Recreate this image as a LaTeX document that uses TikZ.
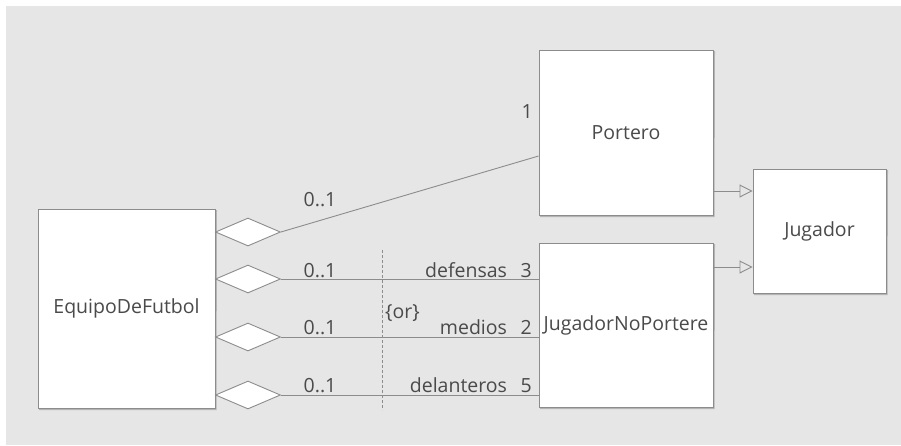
\documentclass[tikz,border=0pt]{standalone}
\usepackage{fontspec}
\setmainfont{Open Sans}
\usetikzlibrary{shapes.geometric,arrows.meta,calc}
\definecolor{bgc}{HTML}{E6E6E6}
\definecolor{lnc}{HTML}{8C8C8C}
\definecolor{txc}{HTML}{4A4A4A}
\definecolor{shc}{HTML}{B4B4B4}
\begin{document}
\begin{tikzpicture}[x=1pt,y=-1pt,
  cls/.style={draw=lnc, fill=white, line width=0.9pt, rectangle, inner sep=0pt, text=txc, font=\fontsize{19.5}{22}\selectfont},
  agg/.style={draw=lnc, fill=white, line width=0.9pt, diamond, minimum width=65pt, minimum height=28pt, inner sep=0pt, anchor=west},
  conn/.style={draw=lnc, line width=0.9pt},
  gen/.style={draw=lnc, line width=0.9pt, -{Triangle[open, length=13pt, width=13pt]}},
  lbl/.style={text=txc, font=\fontsize{19.5}{22}\selectfont, inner sep=0pt}
]
\useasboundingbox (0,0) rectangle (901,445);
\fill[bgc] (6,6) rectangle (901,445);
% shadows
\foreach \a/\b/\c/\d in {38/209/215/408, 539/50/713/215, 539/243/713/407, 753/169/886/293}
  \draw[shc, line width=1pt] (\a+1,\d+1.5) -- (\c+1,\d+1.5) -- (\c+1.5,\b+1);
\node[cls, minimum width=177pt, minimum height=199pt] (E) at (126.5,308.5) {EquipoDeFutbol};
\node[cls, minimum width=174pt, minimum height=165pt] (P) at (626,132.5) {Portero};
\node[cls, minimum width=174pt, minimum height=164pt] (N) at (626,325) {JugadorNoPortere};
\node[cls, minimum width=133pt, minimum height=124pt] (J) at (819.5,231) {Jugador};
% aggregation diamonds
\node[agg] (d1) at (215,232) {};
\node[agg] (d2) at (215,279) {};
\node[agg] (d3) at (215,337) {};
\node[agg] (d4) at (215,395) {};
\coordinate (pend) at ($(P.west)+(0,23.5)$);
\draw[conn] (d1.east) -- (pend);
\draw[conn] (d2.east) -- (d2.east -| N.west);
\draw[conn] (d3.east) -- (d3.east -| N.west);
\draw[conn] (d4.east) -- (d4.east -| N.west);
% generalizations
\coordinate (g1) at (0,191);
\coordinate (g2) at (0,267);
\draw[gen] (P.east |- g1) -- (J.west |- g1);
\draw[gen] (N.east |- g2) -- (J.west |- g2);
% or constraint
\coordinate (ort) at (382,250);
\coordinate (orb) at (382,410);
\draw[lnc, line width=0.7pt, dash pattern=on 3pt off 2pt] (ort) -- (orb);
\node[lbl, anchor=west] (or) at (385,313) {\{or\}};
% multiplicities
\node[lbl, anchor=base] (m1) at (320,206) {0..1};
\node[lbl, anchor=base] (m2) at (320,277) {0..1};
\node[lbl, anchor=base] (m3) at (320,334) {0..1};
\node[lbl, anchor=base] (m4) at (320,392) {0..1};
\node[lbl, anchor=base east] (r1) at (532,277) {defensas\hspace{0.7em}3};
\node[lbl, anchor=base east] (r2) at (532,334) {medios\hspace{0.7em}2};
\node[lbl, anchor=base east] (r3) at (532,392) {delanteros\hspace{0.7em}5};
\node[lbl, anchor=base east] (p1) at (533,118) {1};
\end{tikzpicture}
\end{document}
